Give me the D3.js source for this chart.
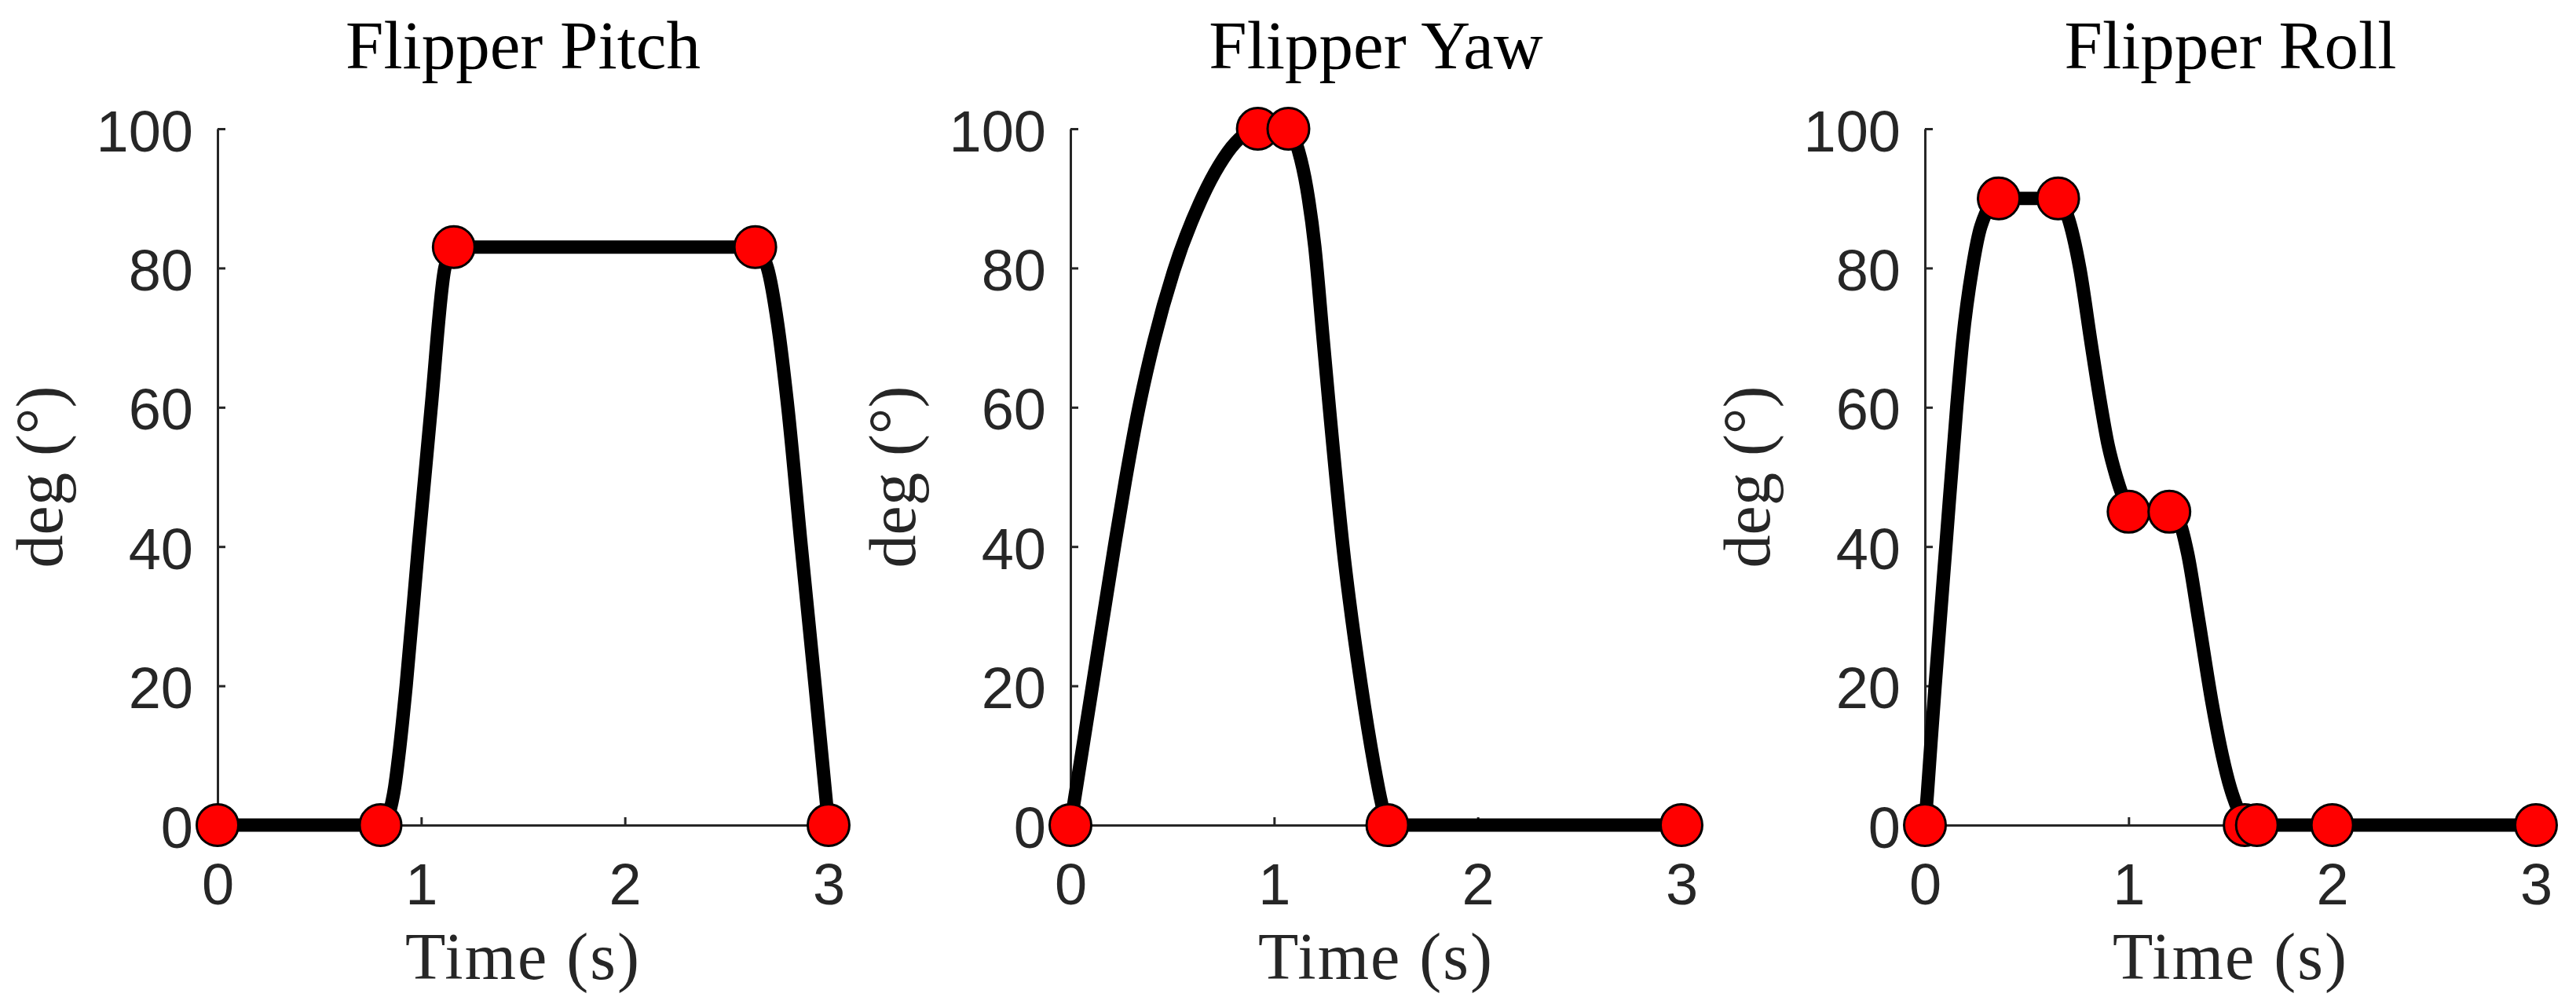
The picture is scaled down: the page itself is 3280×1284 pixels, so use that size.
<!DOCTYPE html>
<html>
<head>
<meta charset="utf-8">
<script src="https://cdn.jsdelivr.net/npm/d3@7"></script>
<style>
  html, body { margin: 0; padding: 0; background: #ffffff; }
  svg { display: block; }
</style>
</head>
<body>
<div id="chart"></div>
<script>
// ---------------- data ----------------
const panelTitles = ["Flipper Pitch", "Flipper Yaw", "Flipper Roll"];
const xLabel = "Time (s)";
const yLabel = "deg (°)";
const xTicks = [0, 1, 2, 3];
const yTicks = [0, 20, 40, 60, 80, 100];

// waypoints (red markers)
const pitchWaypointT   = [0, 0.8, 1.16, 2.64, 3.0];
const pitchWaypointDeg = [0, 0, 83, 83, 0];
const yawWaypointT     = [0, 0.92, 1.07, 1.556, 3.0];
const yawWaypointDeg   = [0, 100, 100, 0, 0];
const rollWaypointT    = [0, 0.3625, 0.654, 1.0, 1.2, 1.57, 1.63, 2.0, 3.0];
const rollWaypointDeg  = [0, 90, 90, 45, 45, 0, 0, 0, 0];

// trajectory samples (black curve)
const pitchCurveT   = [0, 0.8, 0.83, 0.85, 0.87, 0.89, 0.926, 0.986, 1.049, 1.116, 1.16, 2.64, 2.70, 2.75, 2.80, 2.866, 2.934, 3.0];
const pitchCurveDeg = [0, 0, 0.8, 2.5, 5.5, 10, 20, 40, 60, 80, 83, 83, 80, 72, 60, 40, 20, 0];
const yawCurveT     = [0, 0.108, 0.216, 0.27, 0.326, 0.41, 0.506, 0.637, 0.731, 0.81, 0.92, 1.07, 1.12, 1.16, 1.20, 1.24, 1.271, 1.338, 1.428, 1.49, 1.525, 1.556, 3.0];
const yawCurveDeg   = [0, 20, 40, 49.5, 58.5, 69.5, 79.5, 89.5, 94.8, 98, 100, 100, 96.8, 91.5, 83, 70, 60, 40, 20, 8.8, 3.5, 0, 0];
const rollCurveT    = [0, 0.012, 0.03, 0.05, 0.104, 0.156, 0.185, 0.233, 0.275, 0.3625, 0.654, 0.70, 0.76, 0.817, 0.86, 0.90, 0.94, 0.97, 1.0, 1.2, 1.25, 1.29, 1.344, 1.41, 1.46, 1.50, 1.54, 1.57, 1.63, 2.0, 3.0];
const rollCurveDeg  = [0, 4.5, 12, 20, 40.5, 60, 69.5, 80, 86, 90, 90, 87.5, 80, 69, 61, 54.5, 50, 47.3, 45, 45, 43.5, 39, 29.5, 17.5, 10, 5.3, 2, 0, 0, 0, 0];

const panels = [
  { title: panelTitles[0], wt: pitchWaypointT, wd: pitchWaypointDeg, ct: pitchCurveT, cd: pitchCurveDeg },
  { title: panelTitles[1], wt: yawWaypointT,   wd: yawWaypointDeg,   ct: yawCurveT,   cd: yawCurveDeg },
  { title: panelTitles[2], wt: rollWaypointT,  wd: rollWaypointDeg,  ct: rollCurveT,  cd: rollCurveDeg }
];

// ---------------- layout ----------------
const W = 3280, H = 1284;
const panelLeft = [277, 1363, 2451];
const panelWidth = 778;
const plotTop = 164, plotBottom = 1051;
const axisColor = "#262626";
const sansFont = "'Liberation Sans', Arial, Helvetica, sans-serif";
const serifFont = "'Liberation Serif', 'Times New Roman', Times, serif";

const svg = d3.select("#chart").append("svg")
  .attr("width", W).attr("height", H)
  .attr("viewBox", `0 0 ${W} ${H}`);

svg.append("rect").attr("width", W).attr("height", H).attr("fill", "#ffffff");

panels.forEach((p, i) => {
  const left = panelLeft[i];
  const x = d3.scaleLinear().domain([0, 3]).range([left, left + panelWidth]);
  const y = d3.scaleLinear().domain([0, 100]).range([plotBottom, plotTop]);
  const g = svg.append("g");

  // axes
  const yAxis = d3.axisLeft(y).tickValues(yTicks).tickFormat(d3.format("d"))
    .tickSizeInner(-10).tickSizeOuter(0).tickPadding(31);
  const xAxis = d3.axisBottom(x).tickValues(xTicks).tickFormat(d3.format("d"))
    .tickSizeInner(-10).tickSizeOuter(0).tickPadding(48);

  const gy = g.append("g").attr("transform", `translate(${x(0)},0)`).call(yAxis);
  const gx = g.append("g").attr("transform", `translate(0,${y(0)})`).call(xAxis);

  [gx, gy].forEach(ax => {
    ax.select(".domain").attr("stroke", axisColor).attr("stroke-width", 3);
    ax.selectAll(".tick line").attr("stroke", axisColor).attr("stroke-width", 3);
    ax.selectAll(".tick text")
      .attr("fill", axisColor)
      .style("font-family", sansFont)
      .style("font-size", "74px");
  });
  gy.selectAll(".tick text").attr("dy", "0.38em");

  // title
  g.append("text")
    .attr("x", x(1.5)).attr("y", 87)
    .attr("text-anchor", "middle")
    .style("font-family", serifFont)
    .style("font-size", "87px")
    .attr("fill", "#000000")
    .text(p.title);

  // x label
  g.append("text")
    .attr("x", x(1.5)).attr("y", 1247)
    .attr("text-anchor", "middle")
    .style("font-family", serifFont)
    .style("font-size", "84px")
    .style("letter-spacing", "2px")
    .attr("fill", axisColor)
    .text(xLabel);

  // y label
  g.append("text")
    .attr("transform", `translate(${left - 198},${(plotTop + plotBottom) / 2}) rotate(-90)`)
    .attr("text-anchor", "middle")
    .style("font-family", serifFont)
    .style("font-size", "84px")
    .attr("fill", axisColor)
    .text(yLabel);

  // curve
  const curvePts = p.ct.map((t, k) => [t, p.cd[k]]);
  const line = d3.line().x(d => x(d[0])).y(d => y(d[1])).curve(d3.curveMonotoneX);
  g.append("path")
    .datum(curvePts)
    .attr("d", line)
    .attr("fill", "none")
    .attr("stroke", "#000000")
    .attr("stroke-width", 17)
    .attr("stroke-linejoin", "round")
    .attr("stroke-linecap", "butt");

  // markers
  const wp = p.wt.map((t, k) => [t, p.wd[k]]);
  g.selectAll("circle.wp").data(wp).enter().append("circle")
    .attr("class", "wp")
    .attr("cx", d => x(d[0]))
    .attr("cy", d => y(d[1]))
    .attr("r", 26.5)
    .attr("fill", "#ff0000")
    .attr("stroke", "#000000")
    .attr("stroke-width", 3);
});
</script>
</body>
</html>
